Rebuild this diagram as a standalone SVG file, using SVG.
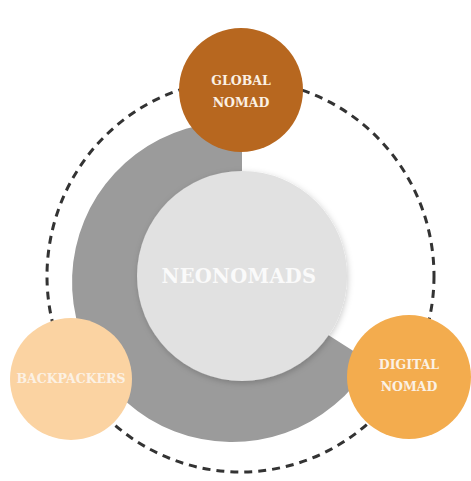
<svg xmlns="http://www.w3.org/2000/svg" width="471" height="481" viewBox="0 0 471 481">
  <defs>
    <filter id="shadow" x="-20%" y="-20%" width="140%" height="140%">
      <feDropShadow dx="1" dy="2" stdDeviation="3" flood-color="#000" flood-opacity="0.2"/>
    </filter>
    <style>
      .lbl { font-family: "DejaVu Serif", "Liberation Serif", serif; font-weight: bold; text-anchor: middle; }
      .small { font-size: 12.5px; fill: #FBF1E4; }
      .big { font-size: 19.5px; fill: #FAFAFA; letter-spacing: 0.3px; }
      .dash { fill: none; stroke: #333333; stroke-width: 3; stroke-dasharray: 8 6; }
    </style>
  </defs>
  <rect width="471" height="481" fill="#FFFFFF"/>
  <g id="connectors">
    <ellipse class="dash" cx="240.5" cy="276" rx="193.5" ry="196"/>
  </g>
  <g id="ring">
    <path d="M242,122.3 L242,280 L370.6,362 A160,160 0 1 1 242,122.3 Z" fill="#9B9B9B"/>
  </g>
  <g id="neonomads">
    <circle cx="242" cy="276" r="105" fill="#E1E1E1" filter="url(#shadow)"/>
    <text class="lbl big" x="239" y="283">NEONOMADS</text>
  </g>
  <g id="global-nomad">
    <circle cx="241" cy="90" r="62" fill="#B7671F"/>
    <text class="lbl small" x="241" y="85">GLOBAL</text>
    <text class="lbl small" x="241" y="107">NOMAD</text>
  </g>
  <g id="backpackers">
    <circle cx="71" cy="379" r="61" fill="#FBD3A2"/>
    <text class="lbl small" x="71" y="383">BACKPACKERS</text>
  </g>
  <g id="digital-nomad">
    <circle cx="409" cy="377" r="62" fill="#F3AC4E"/>
    <text class="lbl small" x="409" y="369">DIGITAL</text>
    <text class="lbl small" x="409" y="391">NOMAD</text>
  </g>
</svg>
